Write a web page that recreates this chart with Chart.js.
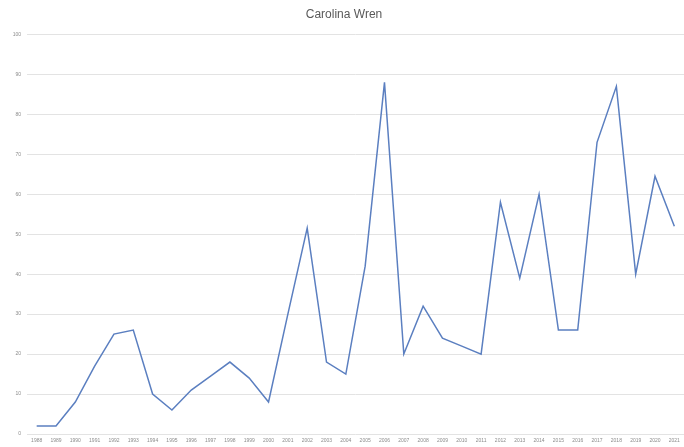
<!DOCTYPE html>
<html>
<head>
<meta charset="utf-8">
<script src="https://cdn.jsdelivr.net/npm/chart.js@4/dist/chart.umd.min.js"></script>
<style>
  html, body { margin: 0; padding: 0; background: #fff; }
  #wrap { width: 684px; height: 447px; }
</style>
</head>
<body>
<div id="wrap"><canvas id="chart"></canvas></div>
<script>
// years on the category axis
const years = [
  1988, 1989, 1990, 1991, 1992, 1993, 1994, 1995, 1996, 1997,
  1998, 1999, 2000, 2001, 2002, 2003, 2004, 2005, 2006, 2007,
  2008, 2009, 2010, 2011, 2012, 2013, 2014, 2015, 2016, 2017,
  2018, 2019, 2020, 2021
];

// birds counted per year
const wrenCounts = [
  2, 2, 8, 17, 25, 26, 10, 6, 11, 14.5,
  18, 14, 8, 30, 51.5, 18, 15, 42, 88, 20,
  32, 24, 22, 20, 58, 39, 60, 26, 26, 73,
  87, 40, 64.5, 52
];

const yTicks = { min: 0, max: 100, step: 10 };

const ctx = document.getElementById('chart').getContext('2d');

new Chart(ctx, {
    type: 'line',
    data: {
        labels: years.map(String),
        datasets: [{
            label: 'Carolina Wren',
            data: wrenCounts,
            borderColor: '#5b7fc0',
            borderWidth: 1.5,
            pointRadius: 0,
            tension: 0,
            fill: false
        }]
    },
    options: {
        responsive: true,
        maintainAspectRatio: false,
        animation: false,
        layout: { padding: { left: 4, right: 0, top: 4, bottom: 0 } },
        plugins: {
            legend: { display: false },
            tooltip: { enabled: false },
            title: {
                display: true,
                text: 'Carolina Wren',
                color: '#595959',
                font: { family: 'Liberation Sans', size: 12, weight: 'normal' },
                padding: { top: 3, bottom: 13 }
            }
        },
        scales: {
            x: {
                offset: true,
                grid: { display: false, drawTicks: false },
                border: { display: false },
                ticks: {
                    autoSkip: false,
                    maxRotation: 0,
                    minRotation: 0,
                    padding: 4,
                    color: '#8c8c8c',
                    font: { family: 'Liberation Sans', size: 5 }
                },
                afterFit: (axis) => { axis.height = 13; }
            },
            y: {
                min: yTicks.min,
                max: yTicks.max,
                border: { display: false },
                grid: { color: '#e3e3e3', lineWidth: 1, drawTicks: false },
                ticks: {
                    stepSize: yTicks.step,
                    padding: 6,
                    color: '#8c8c8c',
                    font: { family: 'Liberation Sans', size: 5 }
                },
                afterFit: (axis) => { axis.width = 23; }
            }
        }
    }
});
</script>
</body>
</html>
